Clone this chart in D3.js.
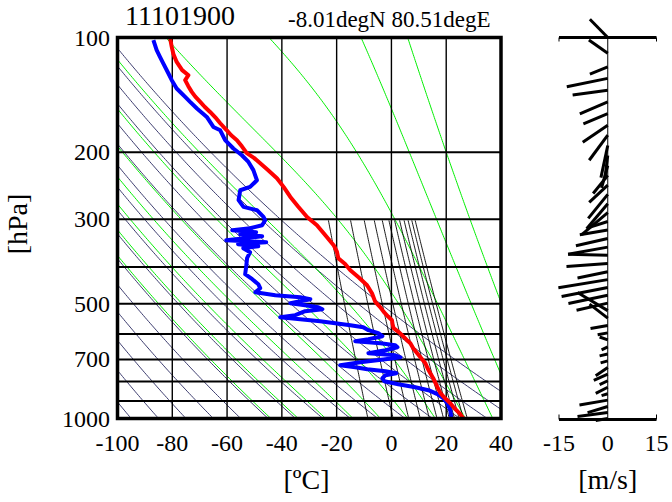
<!DOCTYPE html>
<html><head><meta charset="utf-8">
<script src="https://cdn.jsdelivr.net/npm/d3@7"></script>
<style>
body{margin:0;background:#fff}
svg{display:block}
</style>
</head><body>
<svg id="c" width="672" height="502" font-family="'Liberation Serif', 'Times New Roman', Times, 'DejaVu Serif', serif"></svg>
<script>
// ---------------- data ----------------
const titleText = "11101900";
const placeText = "-8.01degN 80.51degE";
// temperature profile (red): pressure [hPa], temperature [degC]
const tempP = [100.4,105.8,110.5,115.9,121.8,125.6,129.4,134.0,138.9,143.0,147.6,152.0,156.8,162.0,167.9,175.2,180.5,186.0,193.0,201.2,207.0,213.8,222.0,234.0,247.0,262.1,278.0,295.8,310.9,330.0,350.9,365.0,379.5,393.0,408.1,427.0,446.8,469.0,494.3,510.0,525.1,540.0,552.1,565.0,579.4,595.0,610.8,622.0,634.5,655.0,674.1,695.0,716.0,738.0,760.7,785.0,807.7,833.0,858.3,885.0,911.7,940.0,965.0,985.0,1000];
const tempT = [-80.8,-80.2,-79.6,-78.4,-76.4,-74.1,-75.3,-74.2,-72.9,-71.6,-69.8,-68.2,-66.2,-64.3,-62.5,-60.1,-58.5,-56.4,-54.6,-52.8,-50.2,-47.9,-45.3,-41.8,-39.3,-36.9,-34.0,-30.8,-27.2,-24.2,-21.1,-19.9,-19.4,-16.9,-15.0,-11.8,-8.9,-7.1,-5.9,-4.1,-2.8,-1.2,0.2,0.4,0.8,2.9,4.5,5.6,6.9,8.0,9.4,10.9,12.4,13.2,14.2,15.3,16.1,17.0,17.9,19.6,21.5,23.0,24.6,25.6,26.4];
// dew-point profile (blue)
const dewP = [101.6,108.0,112.4,117.0,124.3,129.4,136.1,143.2,147.6,153.6,161.6,171.7,175.2,186.0,195.6,203.7,212.1,222.9,236.9,246.7,251.7,267.3,278.4,284.0,295.8,301.7,310.9,316.6,320.5,324.4,328.4,332.4,336.4,340.4,344.6,348.8,353.0,357.3,366.0,379.5,398.3,418.0,430.9,444.1,455.0,466.1,474.6,480.4,486.3,492.2,498.2,504.2,510.4,516.6,522.9,529.2,535.7,542.2,548.8,555.5,562.2,569.0,576.0,586.5,597.2,608.1,619.3,626.8,634.5,642.2,650.1,662.0,674.1,682.3,690.6,699.0,711.8,724.8,733.6,742.5,751.5,760.7,769.9,784.0,798.4,812.8,827.7,842.8,863.4,884.6,911.7,951.1,1000];
const dewT = [-86.9,-85.7,-84.5,-83.3,-81.4,-80.2,-78.4,-75.3,-73.5,-71.0,-67.4,-65.0,-62.5,-60.7,-57.7,-54.6,-52.2,-50.4,-49.1,-51.6,-55.2,-55.8,-54.0,-49.1,-46.7,-46.1,-47.2,-51.6,-58.1,-49.4,-55.2,-47.2,-53.4,-60.3,-45.7,-56.0,-48.6,-54.1,-51.6,-52.7,-53.0,-53.4,-50.8,-48.6,-47.9,-49.7,-42.4,-33.3,-29.6,-33.3,-36.9,-31.5,-26.7,-25.2,-31.5,-33.3,-35.1,-40.6,-33.3,-26.0,-20.5,-15.0,-10.3,-8.4,-4.8,-3.3,-8.4,-13.2,-4.0,1.4,2.2,-2.2,-8.4,1.4,3.3,-2.2,-11.4,-18.7,-13.2,-8.8,-2.2,1.8,-2.2,-3.3,-2.6,2.5,8.7,13.5,16.8,19.0,20.4,21.5,21.9];
// wind sticks: pressure [hPa], u and v [m/s]
const windP = [100,110,119.5,128,137.5,147.5,158.5,170,180.5,192,204,217,230,244,258,273,288,304,320,337,355,373,392,412,432,453,475,498,521,545,570,596,622,649,677,706,735,765,796,828,861,895,930,965,1000];
const windU = [-5.5,-5.8,-5.5,-12.6,-10.8,-8.6,-7.5,-7.7,-5.7,-2.1,-0.9,-1.9,-4.5,-5.7,-6.0,-6.5,-8.0,-5.9,-8.6,-9.8,-12.2,-12.2,-12.7,-9.3,-15.2,-14.2,-12.1,-9.6,-9.3,-5.6,-5.3,-3.1,-2.5,-1.9,-2.5,-2.2,-3.7,-4.3,-2.5,-3.7,-1.9,-8.7,-6.2,-9.3,-3.7];
const windV = [5.6,4.1,-2.2,-2.6,-1.5,-3.7,-3.1,-5.2,-7.7,-9.9,-7.4,-6.8,-5.6,-5.3,-7.4,-7.7,-6.8,-1.9,-1.5,-2.2,-2.2,0.3,-0.9,-1.9,-2.5,-2.8,-2.5,-2.2,5.6,4.3,-0.9,-0.6,0.9,-0.9,-0.6,-0.6,-2.5,-1.9,-1.2,-1.9,-0.6,-1.5,-1.9,-1.2,-0.6];
// axes
const tempTicks = [-100,-80,-60,-40,-20,0,20,40];
const tempGrid = [-80,-60,-40,-20,0,20];
const presTicks = [100,200,300,500,700,1000];
const presGrid = [200,300,400,500,600,700,800,900];
const windTicks = [-15,0,15];
// thermodynamic guide lines
const dryTheta = [-95,-85,-75,-65,-55,-45,-35,-25,-15,-5,5,15,25,35,45,55];     // degC
const moistThetaW = [-44,-34,-24,-14,-4,6,16,27,37,47,57];                      // degC
const mixRatio = [2,4,6,8,10,12,14,16,18,20,22,24];                             // g/kg

// ---------------- drawing ----------------
const FONT = "'Liberation Serif', 'Times New Roman', Times, 'DejaVu Serif', serif";
const svg = d3.select("#c");
const X0 = 117.5, X1 = 501, Y0 = 37.5, Y1 = 418.5;
const x = d3.scaleLinear().domain([-100, 40]).range([X0, X1]);
const y = d3.scaleLog().domain([100, 1000]).range([Y0, Y1]);

svg.append("defs").append("clipPath").attr("id", "clip")
  .append("rect").attr("x", X0).attr("y", Y0).attr("width", X1 - X0).attr("height", Y1 - Y0);

const plot = svg.append("g").attr("clip-path", "url(#clip)");
const line = d3.line().x(d => x(d[0])).y(d => y(d[1]));
const pLevels = d3.range(0, 201).map(i => 1000 * Math.pow(0.1, i / 200));

// thermodynamics helpers
const es = Tc => 6.112 * Math.exp(17.67 * Tc / (Tc + 243.5));
function thetaE(T, p) {
  const Tc = T - 273.15, e = es(Tc);
  const r = 1000 * 0.622 * e / Math.max(p - e, 1e-3);
  return T * Math.pow(1000 / p, 0.2854 * (1 - 0.00028 * r)) *
         Math.exp((3.376 / T - 0.00254) * r * (1 + 0.00081 * r));
}
function solveT(te, p) {
  let lo = 120, hi = 360;
  while (es(hi - 273.15) > 0.5 * p) hi -= 1;
  for (let i = 0; i < 60; i++) {
    const m = (lo + hi) / 2;
    if (thetaE(m, p) > te) hi = m; else lo = m;
  }
  return (lo + hi) / 2 - 273.15;
}

// dry adiabats
plot.append("g").selectAll("path").data(dryTheta).join("path")
  .attr("d", th => line(pLevels.map(p => [(th + 273.15) * Math.pow(p / 1000, 0.2857) - 273.15, p])))
  .attr("fill", "none").attr("stroke", "#3c3c6e").attr("stroke-width", 1);

// moist (pseudo) adiabats
plot.append("g").selectAll("path").data(moistThetaW).join("path")
  .attr("d", tw => { const te = thetaE(tw + 273.15, 1000); return line(pLevels.map(p => [solveT(te, p), p])); })
  .attr("fill", "none").attr("stroke", "#00ee00").attr("stroke-width", 1);

// mixing ratio lines (300-1000 hPa)
const pMix = pLevels.filter(p => p >= 299.9);
plot.append("g").selectAll("path").data(mixRatio).join("path")
  .attr("d", w => line(pMix.map(p => {
    const e = (w / 1000) * p / (0.622 + w / 1000), l = Math.log(e / 6.112);
    return [243.5 * l / (17.67 - l), p];
  })))
  .attr("fill", "none").attr("stroke", "#000").attr("stroke-width", 0.9);

// grid
plot.append("g").selectAll("line").data(tempGrid).join("line")
  .attr("x1", d => x(d)).attr("x2", d => x(d)).attr("y1", Y0).attr("y2", Y1)
  .attr("stroke", "#000").attr("stroke-width", 1.4);
plot.append("g").selectAll("line").data(presGrid).join("line")
  .attr("x1", X0).attr("x2", X1).attr("y1", d => y(d)).attr("y2", d => y(d))
  .attr("stroke", "#000").attr("stroke-width", 2);

// profiles
plot.append("path").datum(dewP.map((p, i) => [dewT[i], p]))
  .attr("d", line).attr("fill", "none").attr("stroke", "#0000ff")
  .attr("stroke-width", 4).attr("stroke-linejoin", "round");
plot.append("path").datum(tempP.map((p, i) => [tempT[i], p]))
  .attr("d", line).attr("fill", "none").attr("stroke", "#ff0000")
  .attr("stroke-width", 4).attr("stroke-linejoin", "round");

// frame
svg.append("rect").attr("x", X0).attr("y", Y0).attr("width", X1 - X0).attr("height", Y1 - Y0)
  .attr("fill", "none").attr("stroke", "#000").attr("stroke-width", 3.5);

// axes labels
const FS = 24, FT = 28;
function txt(sel) { return sel.attr("font-family", FONT).attr("fill", "#000"); }
txt(svg.append("g").selectAll("text").data(tempTicks).join("text"))
  .attr("x", d => x(d)).attr("y", 451).attr("text-anchor", "middle")
  .attr("font-size", FS).text(d => d);
txt(svg.append("g").selectAll("text").data(presTicks).join("text"))
  .attr("x", 110).attr("y", d => y(d) + 8).attr("text-anchor", "end")
  .attr("font-size", FS).text(d => d);
txt(svg.append("text")).attr("x", x(-31)).attr("y", 489).attr("text-anchor", "middle")
  .attr("font-size", FT).text("[ºC]");
txt(svg.append("text")).attr("transform", "translate(27,224) rotate(-90)")
  .attr("text-anchor", "middle").attr("font-size", FT).text("[hPa]");
txt(svg.append("text")).attr("x", 125).attr("y", 25).attr("font-size", 28).text(titleText);
txt(svg.append("text")).attr("x", 288).attr("y", 27).attr("font-size", 23).text(placeText);

// ---------------- wind panel ----------------
const wx = d3.scaleLinear().domain([-15, 15]).range([559, 656.5]);
const k = (wx(15) - wx(0)) / 15;
const wg = svg.append("g");
wg.append("line").attr("x1", wx(0)).attr("x2", wx(0)).attr("y1", Y0).attr("y2", Y1)
  .attr("stroke", "#000").attr("stroke-width", 1);
wg.append("line").attr("x1", wx(-15)).attr("x2", wx(15)).attr("y1", Y0).attr("y2", Y0)
  .attr("stroke", "#000").attr("stroke-width", 3);
wg.append("line").attr("x1", wx(-15)).attr("x2", wx(15)).attr("y1", Y1 + 1).attr("y2", Y1 + 1)
  .attr("stroke", "#000").attr("stroke-width", 3);
wg.selectAll("line.tt").data([-15, 15]).join("line").attr("class", "tt")
  .attr("x1", d => wx(d)).attr("x2", d => wx(d)).attr("y1", Y0).attr("y2", Y0 + 4)
  .attr("stroke", "#000").attr("stroke-width", 1);
wg.selectAll("line.bt").data([-15, 15]).join("line").attr("class", "bt")
  .attr("x1", d => wx(d)).attr("x2", d => wx(d)).attr("y1", Y1 - 4).attr("y2", Y1 + 1)
  .attr("stroke", "#000").attr("stroke-width", 1);
wg.selectAll("line.stick").data(windP.map((p, i) => [p, windU[i], windV[i]])).join("line")
  .attr("class", "stick")
  .attr("x1", wx(0)).attr("y1", d => y(d[0]))
  .attr("x2", d => wx(d[1])).attr("y2", d => y(d[0]) - d[2] * k)
  .attr("stroke", "#000").attr("stroke-width", 3);
txt(wg.selectAll("text").data(windTicks).join("text"))
  .attr("x", d => wx(d)).attr("y", 451).attr("text-anchor", "middle")
  .attr("font-size", FS).text(d => d);
txt(svg.append("text")).attr("x", wx(0)).attr("y", 489).attr("text-anchor", "middle")
  .attr("font-size", FT).text("[m/s]");
</script>
</body></html>
